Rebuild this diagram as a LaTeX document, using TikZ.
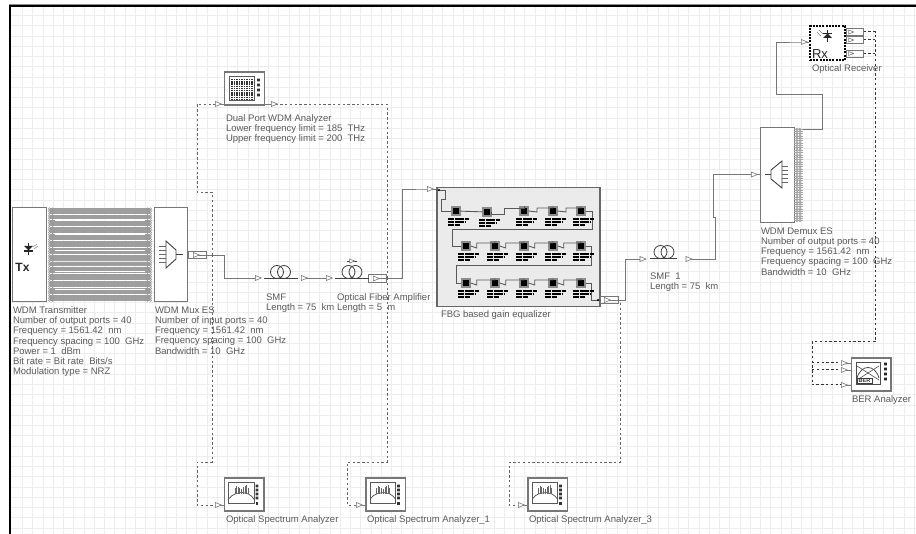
\documentclass[tikz,border=0pt]{standalone}
\usepackage{fontspec}
\setmainfont{Liberation Sans}
\usetikzlibrary{shapes.geometric,backgrounds}
\definecolor{gridc}{HTML}{EDEDED}
\definecolor{wirec}{HTML}{777777}
\definecolor{txtc}{HTML}{5A5A5A}
\tikzset{
  lab/.style={anchor=north west,inner sep=0pt,outer sep=0pt,text=txtc,align=left,font=\fontsize{9.5}{10.25}\selectfont},
  block/.style={draw=wirec,fill=white,line width=0.9pt,inner sep=0pt,outer sep=0pt},
  instr/.style={draw=wirec,fill=white,line width=1.1pt,inner sep=0pt,outer sep=0pt,minimum width=39.5pt,minimum height=33pt},
  tri/.style={shape=isosceles triangle,draw=wirec,fill=white,line width=0.6pt,inner sep=0pt,outer sep=0pt,minimum width=5pt,minimum height=6pt,isosceles triangle stretches},
  portbox/.style={draw=wirec,fill=none,line width=0.7pt,inner sep=0pt,minimum height=7.5pt,minimum width=18pt},
  wire/.style={draw=wirec,line width=0.9pt},
  dash1/.style={draw=wirec!85!black,line width=0.9pt,dash pattern=on 2.4pt off 2.4pt},
  dash2/.style={draw=black!80,line width=1pt,dash pattern=on 2.4pt off 2.4pt},
  sym/.style={draw=black!75,line width=0.9pt},
  fbgel/.style={draw=black!45,fill=black,line width=1.4pt,inner sep=0pt,minimum width=8pt,minimum height=8pt},
  fwire/.style={draw=black!65,line width=0.9pt},
  scribble/.style={draw=black,line width=1.3pt,dash pattern=on 3pt off 0.3pt},
  big/.style={inner sep=0pt,text=black!85,font=\bfseries\fontsize{12}{12}\selectfont},
  pics/coil/.style={code={
    \draw[sym,line width=0.8pt] (-3.5,-6) circle[radius=6.5];
    \draw[sym,line width=0.8pt] (3.5,-6) circle[radius=6.5];
    \draw[sym] (-17,0.5) -- (17,0.5);
  }},
  pics/osa/.style={code={
    \draw[black!65,line width=1pt] (-15.5,-12.5) rectangle (10,9);
    \fill[black!80] \foreach \d in {-8.5,-4.5,-0.5,3.5}{(12.8,\d) ++(-1.3,-1.3) rectangle ++(2.6,2.6)};
    \fill[black!80] (12.8,9) ++(-1.3,-1.5) rectangle ++(2.6,2.6);
    \draw[black!70,line width=0.7pt] (-15,4) .. controls (-11,-1) and (-8,-1) .. (-2,-2) .. controls (3,-1) and (6,-1) .. (10,5);
    \foreach \a/\h in {-9/6,-7.5/8,-6/7,-4.5/6,-2.5/5,-0.5/7,1/8,2.5/9,4/6}{\draw[black!60,line width=0.8pt] (\a,-1) -- +(0,-\h);}
  }},
  pics/ports/.style={code={
    \foreach \i in {0,...,39}{
      \draw[black!40,line width=0.5pt] (0,{\i*2.35}) circle[radius=1.1];
      \draw[black!40,line width=0.5pt] (3,{\i*2.35}) circle[radius=1.1];
    }
  }},
  pics/scrib/.style={code={
    \draw[scribble] (-8,8) -- (12,8);
    \draw[scribble] (-8,11) -- (10,11);
    \draw[scribble] (-8,14) -- (4,14);
  }}
}
\begin{document}
\begin{tikzpicture}[x=1pt,y=-1pt]
\useasboundingbox (0,0) rectangle (916,534);
\begin{pgfonlayer}{background}
  \fill[white] (0,0) rectangle (916,534);
  \foreach \i in {0,...,87}{\draw[gridc,line width=1pt] ({22.7+\i*10.25},6) -- ({22.7+\i*10.25},534);}
  \foreach \i in {0,...,50}{\draw[gridc,line width=1pt] (10,{15.7+\i*10.25}) -- (916,{15.7+\i*10.25});}
\end{pgfonlayer}
\draw[black,line width=2.2pt] (10,534) -- (10,6) -- (916,6);
\draw[black!45,line width=0.6pt] (9,4.4) -- (916,4.4);

% ---- main blocks
\node[block,minimum width=33.5pt,minimum height=94.5pt] (tx) at (29.2,254.7) {};
\node[block,minimum width=33.5pt,minimum height=94.5pt] (mux) at (170.7,254.7) {};
\node[block,minimum width=34pt,minimum height=95pt] (demux) at (777,174.5) {};
\node[draw=black,fill=white,line width=1.1pt,dash pattern=on 2pt off 1.2pt,inner sep=0pt,minimum width=35pt,minimum height=34pt] (rx) at (827.5,43) {};
\node[draw=black!60,fill=black!8,line width=1.2pt,inner sep=0pt,minimum width=163pt,minimum height=118.5pt] (fbg) at (518.5,247) {};
\node[instr,minimum height=33pt] (dual) at (244.5,88.5) {};
\node[instr] (osa) at (244.2,494.5) {};
\node[instr] (osaa) at (385.7,494.5) {};
\node[instr] (osac) at (547.7,494.5) {};
\node[instr] (ber) at (871.2,374.5) {};

% ---- 40 parallel channels
\foreach \i in {0,...,39}{
  \coordinate (txp\i) at (50,{208.8+\i*2.35});
  \coordinate (mxp\i) at (150,{208.8+\i*2.35});
  \draw[black!38,line width=2pt] (txp\i) -- (mxp\i);
}
\foreach \y in {220.7,234.2,250.2,271.5,289.6}{\draw[white,line width=0.9pt] (55,\y) -- (145,\y);}
\pic at (49.5,208.8) {ports};
\pic at (147.5,208.8) {ports};
\pic at (797,129) {ports};
\foreach \i in {0,...,39}{\draw[black!35,line width=0.6pt] (794,{129+\i*2.35}) -- (803,{129+\i*2.35});}

% ---- ports and markers
\node[portbox] (pmux) at (197,255) {};
\node[tri] (tmux) at (195,255) {};
\node[portbox] (pamp) at (377,278.5) {};
\node[tri] (tamp) at (375,278.5) {};
\node[portbox] (pfbg) at (609,300) {};
\node[tri] (tfbg) at (606,300) {};
\node[tri] (tsmfa) at (257,278) {};
\node[tri] (tsmfb) at (303,278) {};
\node[tri] (tampa) at (328,278) {};
\node[tri] (tfbgin) at (429,189) {};
\node[tri] (tsmf1a) at (641.7,259) {};
\node[tri] (tsmf1b) at (687.7,259) {};
\node[tri] (tdmx) at (753,174.5) {};
\node[tri] (trx) at (803,42) {};
\node[tri] (tdual1) at (217,104) {};
\node[tri] (tdual2) at (273,104) {};
\node[tri] (tosa) at (217,505) {};
\node[tri] (tosaa) at (358,505) {};
\node[tri] (tosac) at (520,505) {};
\node[tri] (tb1) at (843,363) {};
\node[tri] (tb2) at (843,370) {};
\node[tri] (tb3) at (843,385) {};
\node[portbox,minimum height=7pt,minimum width=17pt] (po1) at (854.5,32) {};
\node[portbox,minimum height=7pt,minimum width=17pt] (po2) at (854.5,40) {};
\node[portbox,minimum height=7pt,minimum width=17pt] (po3) at (854.5,53.5) {};
\node[tri,minimum width=4pt,minimum height=5pt] (tr1) at (850,32) {};
\node[tri,minimum width=4pt,minimum height=5pt] (tr2) at (850,40) {};
\node[tri,minimum width=4pt,minimum height=5pt] (tr3) at (850,53.5) {};

% ---- connectors
\begin{pgfonlayer}{background}
  \draw[wire] (tmux.center) -- (224.5,255) |- (tsmfa.center);
  \draw[wire] (tsmfb.center) -- (tampa.center);
  \draw[wire] (tamp.center) -- (402.7,278.5) |- (tfbgin.center) -- (437,189);
  \draw[wire] (tfbg.center) -- (625,300) |- (tsmf1a.center);
  \draw[wire] (tsmf1b.center) -- (715,259) -- (715,217) -- (713,217) |- (tdmx.center) -- (demux.west |- tdmx);
  \draw[wire] (803,129) -- (822,129) -- (822,94) -- (776,94) |- (trx.center) -- (rx.west |- trx);
  \draw[dash1] (212,255) -- (212,192) -- (197,192) |- (tdual1.center);
  \draw[wire] (tdual1.center) -- (dual.west |- tdual1);
  \draw[dash1] (212,255) -- (212,462) -- (197,462) |- (tosa.center);
  \draw[wire] (tosa.center) -- (osa.west |- tosa);
  \draw[dash1] (387,278) |- (tdual2.center);
  \draw[wire] (tdual2.center) -- (dual.east |- tdual2);
  \draw[dash1] (387,278) -- (387,462) -- (347,462) |- (tosaa.center);
  \draw[wire] (tosaa.center) -- (osaa.west |- tosaa);
  \draw[dash1] (620,303) -- (620,462.5) -- (509,462.5) |- (tosac.center);
  \draw[wire] (tosac.center) -- (osac.west |- tosac);
  \draw[dash2] (po1.east) -- (875,32) -- (875,342) -- (812,342) |- (tb3.center);
  \draw[dash2] (po2.east) -- (875,40);
  \draw[dash2] (po3.east) -- (875,53.5);
  \draw[dash2] (812,363) -- (tb1.center);
  \draw[dash2] (812,370) -- (tb2.center);
  \draw[wire] (tb1.center) -- (ber.west |- tb1);
  \draw[wire] (tb2.center) -- (ber.west |- tb2);
  \draw[wire] (tb3.center) -- (ber.west |- tb3);
\end{pgfonlayer}

% ---- fibre coils
\pic at (280.5,278) {coil};
\pic at (352,278) {coil};
\draw[sym,line width=0.7pt] (347,261) -- (357,261);
\node[tri,minimum width=4pt,minimum height=5pt] (tpump) at (351,261) {};
\draw[sym] (650,258.5) -- (677,258.5);
\draw[sym,line width=0.8pt] (660.5,252) circle[radius=6.5];
\draw[sym,line width=0.8pt] (667.5,252) circle[radius=6.5];

% ---- Tx / Rx icons
\node[big] (txt) at (22.5,267) {Tx};
\node[big,font=\fontsize{13}{13}\selectfont] (rxt) at (820,54) {Rx};
\fill[black!85] (24,246) -- (33,246) -- (28.5,250.5) -- cycle;
\draw[black!85,line width=1.2pt] (24,251) -- (33,251);
\draw[black!85,line width=1pt] (28.5,243.5) -- (28.5,255);
\draw[black!50,line width=0.5pt] (33,247) -- (37,244) (34,249) -- (38,246);
\fill[black!85] (823,38) -- (832,38) -- (827.5,33.5) -- cycle;
\draw[black!85,line width=1.2pt] (823,33.5) -- (832,33.5);
\draw[black!85,line width=1pt] (827.5,30.5) -- (827.5,42);
\draw[black!50,line width=0.5pt] (817,32) -- (821,36) (819,30) -- (823,34);

% ---- mux / demux icons
\draw[sym] (166,241) -- (166,268) -- (176,259) -- (176,250) -- cycle;
\draw[sym] (176,254.5) -- (183,254.5);
\foreach \y in {246,250,254,258,262}{\draw[black!60,line width=0.7pt] (159,\y) -- (166,\y);}
\draw[sym] (782,161) -- (782,188) -- (771,179) -- (771,170) -- cycle;
\draw[sym] (765,174.5) -- (771,174.5);
\foreach \y in {166,170,174,178,182}{\draw[black!60,line width=0.7pt] (782,\y) -- (788,\y);}

% ---- instrument icons
\pic at (244.2,494.5) {osa};
\pic at (385.7,494.5) {osa};
\pic at (547.7,494.5) {osa};
\draw[black!65,line width=1pt] (229.5,77) rectangle (254.5,100.5);
\foreach \x in {232,234.5,...,252.5}{\draw[black!80,line width=1.2pt,dash pattern=on 1.4pt off 0.8pt] (\x,79) -- (\x,99);}
\fill[black!80] \foreach \d in {80,85,90,95}{(258.5,\d) ++(-1.3,-1.3) rectangle ++(2.6,2.6)};
\draw[black!70,line width=1pt] (856,362.5) rectangle (880,384.5);
\fill[black!85] \foreach \d in {364,369,374,379}{(885.5,\d) ++(-1.3,-1.3) rectangle ++(2.6,2.6)};
\draw[black!70,line width=0.8pt] (857,378) .. controls (861,364) and (875,364) .. (879,378);
\draw[black!70,line width=0.6pt] (857,366) -- (879,380) (879,366) -- (857,380);
\node[draw=black!75,fill=white,line width=0.7pt,inner sep=0.6pt,text=black!80,font=\bfseries\fontsize{5.5}{5.5}\selectfont,minimum width=15pt] (bertxt) at (864.5,380.5) {BER};

% ---- FBG subsystem
\node[fbgel] (e11) at (456,211) {};
\node[fbgel] (e12) at (487,212) {};
\node[fbgel] (e13) at (524,211) {};
\node[fbgel] (e14) at (553,211) {};
\node[fbgel] (e15) at (581,211) {};
\foreach \n/\x in {1/466,2/495,3/524,4/553,5/581}{
  \node[fbgel] (e2\n) at (\x,246) {};
  \node[fbgel] (e3\n) at (\x,283) {};
}
\draw[fwire] (fbg.west |- 0,190) -- (445,190) -- (445,199) -- (441,199) |- (e11.west);
\draw[fwire] (e11) -- (e12);
\draw[fwire] (e12.east) -- ++(0,2) -- (504,214) -- (504,208) -| (e13);
\draw[fwire] (e13.east) -- (537,212) -- (537,208) -| (e14);
\draw[fwire] (e14.east) -- (566,212) -- (566,208) -| (e15);
\draw[fwire] (e15.east) -- (592,211) -- (592,229) -- (452,229) |- (e21.west);
\foreach \r in {2,3}{
  \draw[fwire] (e\r1.east) -- +(6,2) -- +(6,-3) -| (e\r2);
  \draw[fwire] (e\r2.east) -- +(6,2) -- +(6,-3) -| (e\r3);
  \draw[fwire] (e\r3.east) -- +(6,2) -- +(6,-3) -| (e\r4);
  \draw[fwire] (e\r4.east) -- +(6,2) -- +(6,-3) -| (e\r5);
}
\draw[fwire] (e25.east) -- (591,246) -- (591,265) -- (456,265) |- (e31.west);
\draw[fwire] (e35.east) -- (591,283) |- (fbg.east |- 0,300);
\fill[black] (439,190) circle[radius=1.2];
\fill[black] (598,300) circle[radius=1.2];
\foreach \n in {e11,e12,e13,e14,e15,e21,e22,e23,e24,e25,e31,e32,e33,e34,e35}{\pic at (\n) {scrib};}

% ---- labels
\node[lab] (ltx) at (13,306.5) {WDM Transmitter\\Number of output ports = 40\\Frequency = 1561.42~~nm\\Frequency spacing = 100~~GHz\\Power = 1~~dBm\\Bit rate = Bit rate~~Bits/s\\Modulation type = NRZ};
\node[lab] (lmux) at (155,306.5) {WDM Mux ES\\Number of input ports = 40\\Frequency = 1561.42~~nm\\Frequency spacing = 100~~GHz\\Bandwidth = 10~~GHz};
\node[lab] (lsmf) at (266,293.5) {SMF\\Length = 75~~km};
\node[lab] (lamp) at (337,293.5) {Optical Fiber Amplifier\\Length = 5~~m};
\node[lab] (ldual) at (226,114.5) {Dual Port WDM Analyzer\\Lower frequency limit = 185~~THz\\Upper frequency limit = 200~~THz};
\node[lab] (lfbg) at (441,310.5) {FBG based gain equalizer};
\node[lab] (lsmf1) at (650,272.5) {SMF~~1\\Length = 75~~km};
\node[lab] (ldmx) at (761,227.5) {WDM Demux ES\\Number of output ports = 40\\Frequency = 1561.42~~nm\\Frequency spacing = 100~~GHz\\Bandwidth = 10~~GHz};
\node[lab] (lrx) at (812,64.5) {Optical Receiver};
\node[lab] (lber) at (852,395.5) {BER Analyzer};
\node[lab] (losa) at (226,515.5) {Optical Spectrum Analyzer};
\node[lab] (losaa) at (367,515.5) {Optical Spectrum Analyzer\_1};
\node[lab] (losac) at (529,515.5) {Optical Spectrum Analyzer\_3};
\end{tikzpicture}
\end{document}
